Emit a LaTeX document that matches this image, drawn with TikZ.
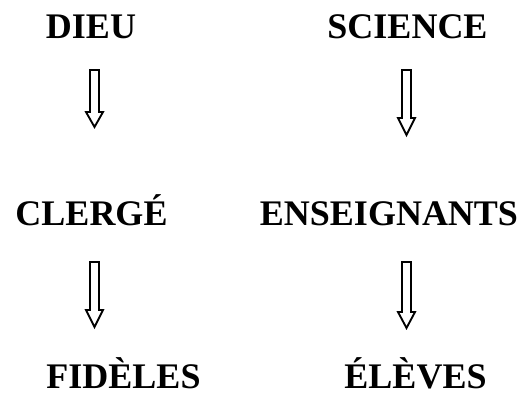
\documentclass[tikz,border=0pt]{standalone}
\usepackage{fontspec}
\setmainfont{Liberation Serif}

% hollow arrow pointing down: x, top, head top, tip
\newcommand{\downblock}[4]{%
  \draw [fleche] (#1-4.5,#2) -- (#1+4.5,#2) -- (#1+4.5,#3) -- (#1+8.5,#3) -- (#1,#4) -- (#1-8.5,#3) -- (#1-4.5,#3) -- cycle ;}

\begin{document}
\begin{tikzpicture}[x=0.75pt,y=0.75pt,yscale=-1,xscale=1,
  mot/.style={anchor=base, inner sep=0.75pt, font=\fontsize{27}{32}\selectfont\bfseries},
  fleche/.style={line width=1.4pt, line join=miter}]
    \useasboundingbox (0,0) rectangle (523,396); %set diagram size 523 x 396

    % Text Node
    \draw (91,38) node [mot] (dieu) {DIEU};
    % Text Node
    \draw (407.5,38) node [mot] (science) {SCIENCE};
    % Text Node
    \draw (91.5,225) node [mot] (clerge) {CLERGÉ};
    % Text Node
    \draw (389,225) node [mot] (enseignants) {ENSEIGNANTS};
    % Text Node
    \draw (123.5,388) node [mot] (fideles) {FIDÈLES};
    % Text Node
    \draw (415.5,388) node [mot] (eleves) {ÉLÈVES};

    %Down Arrow: dieu -> clerge
    \downblock{94.5}{70}{112}{127}
    %Down Arrow: science -> enseignants
    \downblock{406.5}{70}{118}{135}
    %Down Arrow: clerge -> fideles
    \downblock{94.5}{262}{310}{327}
    %Down Arrow: enseignants -> eleves
    \downblock{406.5}{262}{312}{328}

\end{tikzpicture}
\end{document}
